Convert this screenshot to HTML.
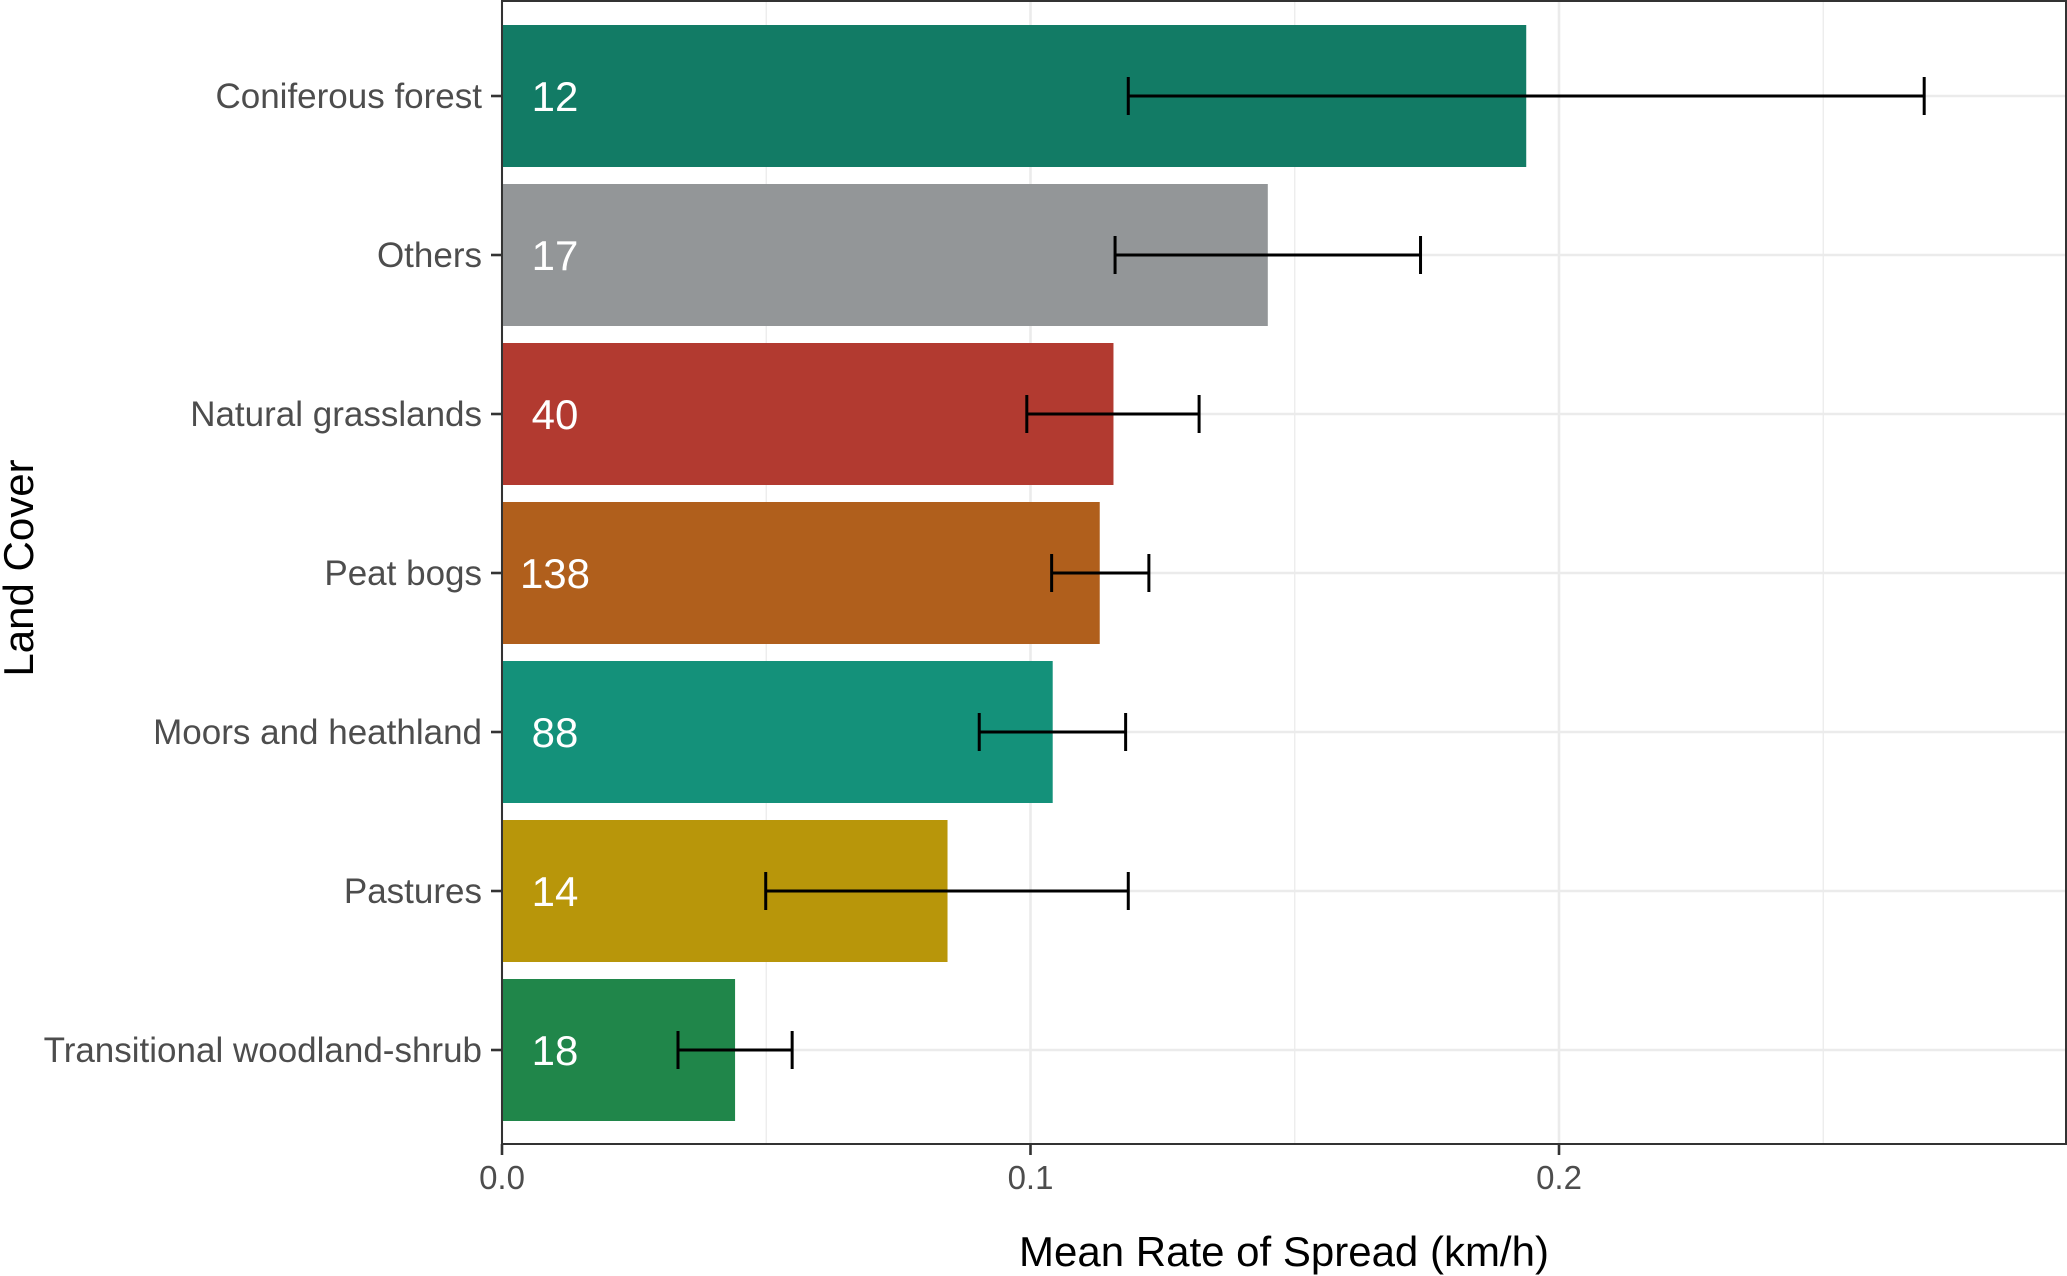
<!DOCTYPE html>
<html><head><meta charset="utf-8"><style>
html,body{margin:0;padding:0;background:#fff;}
svg{display:block;font-family:"Liberation Sans",sans-serif;}
</style></head><body>
<svg id="chart" width="2067" height="1276" viewBox="0 0 2067 1276" xmlns="http://www.w3.org/2000/svg">
<g id="grid"></g>
<g id="bars"></g>
<g id="errs"></g>
<g id="labels"></g>
<rect x="502" y="1" width="1564" height="1143" fill="none" stroke="#333" stroke-width="2"/>
<g id="yaxis"></g>
<g id="xaxis"></g>
<text x="1284" y="1266" text-anchor="middle" font-size="42" fill="#000">Mean Rate of Spread (km/h)</text>
<text transform="translate(33,568) rotate(-90)" text-anchor="middle" font-size="42" fill="#000">Land Cover</text>
</svg>
<script>
const categories = ["Coniferous forest","Others","Natural grasslands","Peat bogs","Moors and heathland","Pastures","Transitional woodland-shrub"];
const means = [0.1938,0.1449,0.1157,0.1131,0.1042,0.0843,0.0441];
const lower = [0.1185,0.1160,0.0993,0.1040,0.0903,0.0499,0.0333];
const upper = [0.2691,0.1738,0.1319,0.1224,0.1180,0.1185,0.0549];
const counts = ["12","17","40","138","88","14","18"];
const colors = ["#127B65","#939698","#B23A30","#B05F1C","#14917A","#B8960A","#20864A"];
const majorTicks = [0,0.1,0.2];
const tickLabels = ["0.0","0.1","0.2"];
const minorTicks = [0.05,0.15,0.25];

const NS="http://www.w3.org/2000/svg";
const X0=502, PX=5285, top0=96, step=159, barH=142;
const xs=v=>X0+v*PX;
const ys=i=>top0+i*step;
function mk(tag,attrs,parent){const e=document.createElementNS(NS,tag);for(const k in attrs)e.setAttribute(k,attrs[k]);parent.appendChild(e);return e;}
const grid=document.getElementById('grid'),bars=document.getElementById('bars'),errs=document.getElementById('errs'),labels=document.getElementById('labels'),yaxis=document.getElementById('yaxis'),xaxis=document.getElementById('xaxis');
minorTicks.forEach(t=>{const l=mk('line',{x1:xs(t),x2:xs(t),y1:1,y2:1144,stroke:'#EBEBEB','stroke-width':1.3},grid);

});
majorTicks.forEach(t=>{const l=mk('line',{x1:xs(t),x2:xs(t),y1:1,y2:1144,stroke:'#EBEBEB','stroke-width':2.6},grid);

});
categories.forEach((c,i)=>{const l=mk('line',{x1:X0,x2:2066,y1:ys(i),y2:ys(i),stroke:'#EBEBEB','stroke-width':2.6},grid);

});
categories.forEach((c,i)=>{
 const r=mk('rect',{x:X0,y:ys(i)-barH/2,width:xs(means[i])-X0,height:barH,fill:colors[i]},bars);
 
 
 const g=mk('g',{stroke:'#000','stroke-width':3},errs);
 
 
 mk('line',{x1:xs(lower[i]),x2:xs(upper[i]),y1:ys(i),y2:ys(i)},g);
 mk('line',{x1:xs(lower[i]),x2:xs(lower[i]),y1:ys(i)-19,y2:ys(i)+19},g);
 mk('line',{x1:xs(upper[i]),x2:xs(upper[i]),y1:ys(i)-19,y2:ys(i)+19},g);
 const t=mk('text',{x:555,y:ys(i)+15,'text-anchor':'middle','font-size':42,fill:'#fff'},labels);
 t.textContent=counts[i];
 
 
 const yl=mk('text',{x:482,y:ys(i)+12,'text-anchor':'end','font-size':35,fill:'#4D4D4D'},yaxis);
 yl.textContent=c;
 
 
 mk('line',{x1:491,x2:502,y1:ys(i),y2:ys(i),stroke:'#333','stroke-width':2.6},yaxis);
});
majorTicks.forEach((t,i)=>{
 mk('line',{x1:xs(t),x2:xs(t),y1:1144,y2:1155,stroke:'#333','stroke-width':2.6},xaxis);
 const xl=mk('text',{x:xs(t),y:1189,'text-anchor':'middle','font-size':33,fill:'#4D4D4D'},xaxis);
 xl.textContent=tickLabels[i];
 
 
});
</script>
</body></html>
